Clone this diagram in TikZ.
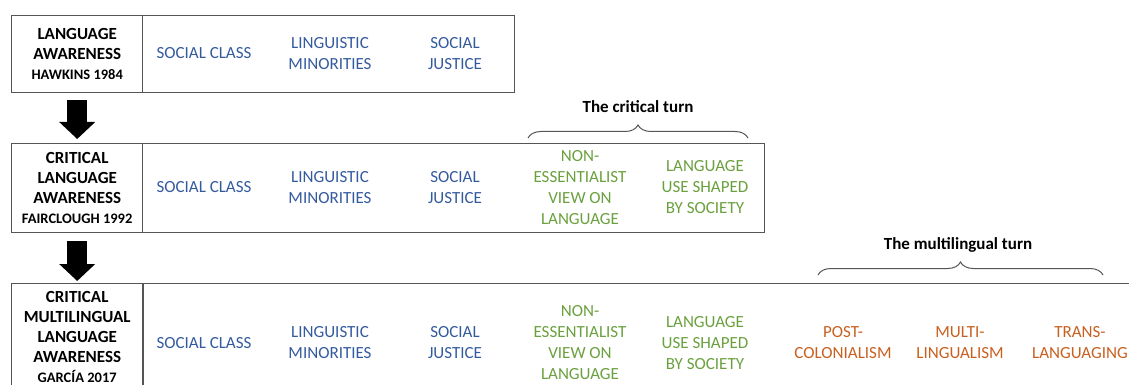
\documentclass[tikz,border=0pt]{standalone}
\usepackage{fontspec}
\setmainfont{Carlito}
\usetikzlibrary{arrows.meta, positioning, decorations.pathreplacing}

\definecolor{framegray}{RGB}{85,85,85}
\definecolor{classblue}{RGB}{52,90,158}
\definecolor{turngreen}{RGB}{106,160,62}
\definecolor{multiorange}{RGB}{200,95,30}

\begin{document}
\begin{tikzpicture}[x=1pt, y=-1pt,
    rowbox/.style={draw=framegray, line width=1.4pt, anchor=north west, inner sep=0pt},
    titlebox/.style={rowbox, minimum width=131pt, align=center, font=\bfseries\fontsize{17}{20}\selectfont},
    topic/.style={align=center, font=\fontsize{17}{21}\selectfont},
    social/.style={topic, text=classblue},
    critical/.style={topic, text=turngreen},
    multi/.style={topic, text=multiorange},
    turnbrace/.style={draw=framegray, line width=1pt, decorate, decoration={brace, amplitude=13pt}},
    turnlabel/.style={font=\bfseries\fontsize{17}{20}\selectfont},
    downarrow/.style={line width=20pt, -{Triangle[width=35pt, length=17pt]}}]

  \path[use as bounding box] (0,0) rectangle (1129,385);
  \clip (0,0) rectangle (1129,385);

  % first row: language awareness
  \node[rowbox, minimum width=503pt, minimum height=77pt] (row1) at (11,15) {};
  \node[titlebox, minimum height=77pt] (title1) at (row1.north west)
    {LANGUAGE\\AWARENESS\\{\fontsize{14.5}{20}\selectfont HAWKINS 1984}};
  \node[social] (class1) at (204,53.5) {SOCIAL CLASS};
  \node[social] (minor1) at (330,53.5) {LINGUISTIC\\MINORITIES};
  \node[social] (justice1) at (455,53.5) {SOCIAL\\JUSTICE};

  % second row: critical language awareness
  \node[rowbox, minimum width=753pt, minimum height=89pt] (row2) at (11,143) {};
  \node[titlebox, minimum height=89pt] (title2) at (row2.north west)
    {CRITICAL\\LANGUAGE\\AWARENESS\\{\fontsize{14.5}{20}\selectfont FAIRCLOUGH 1992}};
  \node[social] (class2) at (204,187.5) {SOCIAL CLASS};
  \node[social] (minor2) at (330,187.5) {LINGUISTIC\\MINORITIES};
  \node[social] (justice2) at (455,187.5) {SOCIAL\\JUSTICE};
  \node[critical] (essent2) at (580,187.5) {NON-\\ESSENTIALIST\\VIEW ON\\LANGUAGE};
  \node[critical] (shaped2) at (705,187.5) {LANGUAGE\\USE SHAPED\\BY SOCIETY};

  % third row: critical multilingual language awareness
  \node[rowbox, minimum width=1140pt, minimum height=117pt] (row3) at (11,283) {};
  \node[titlebox, minimum height=106pt] (title3) at (row3.north west)
    {CRITICAL\\MULTILINGUAL\\LANGUAGE\\AWARENESS\\{\fontsize{14.5}{20}\selectfont GARCÍA 2017}};
  \draw[draw=framegray, line width=1.4pt] (title3.north east) -- ++(0,120);
  \node[social] (class3) at (204,343) {SOCIAL CLASS};
  \node[social] (minor3) at (330,343) {LINGUISTIC\\MINORITIES};
  \node[social] (justice3) at (455,343) {SOCIAL\\JUSTICE};
  \node[critical] (essent3) at (580,343) {NON-\\ESSENTIALIST\\VIEW ON\\LANGUAGE};
  \node[critical] (shaped3) at (705,343) {LANGUAGE\\USE SHAPED\\BY SOCIETY};
  \node[multi] (postcol3) at (843,343) {POST-\\COLONIALISM};
  \node[multi] (multiling3) at (960,343) {MULTI-\\LINGUALISM};
  \node[multi] (translang3) at (1080,343) {TRANS-\\LANGUAGING};

  % arrows between rows
  \draw[downarrow, shorten <=7pt, shorten >=4pt] (title1.south) -- (title2.north);
  \draw[downarrow, shorten <=8pt, shorten >=2pt] (title2.south) -- (title3.north);

  % braces for the turns
  \coordinate (critL) at (528,138);
  \coordinate (critR) at (748,138);
  \draw[turnbrace] (critL) -- (critR);
  \node[turnlabel] (critlabel) at (638,107) {The critical turn};

  \coordinate (multiL) at (818,275);
  \coordinate (multiR) at (1103,275);
  \draw[turnbrace] (multiL) -- (multiR);
  \node[turnlabel] (multilabel) at (958,245) {The multilingual turn};
\end{tikzpicture}
\end{document}
